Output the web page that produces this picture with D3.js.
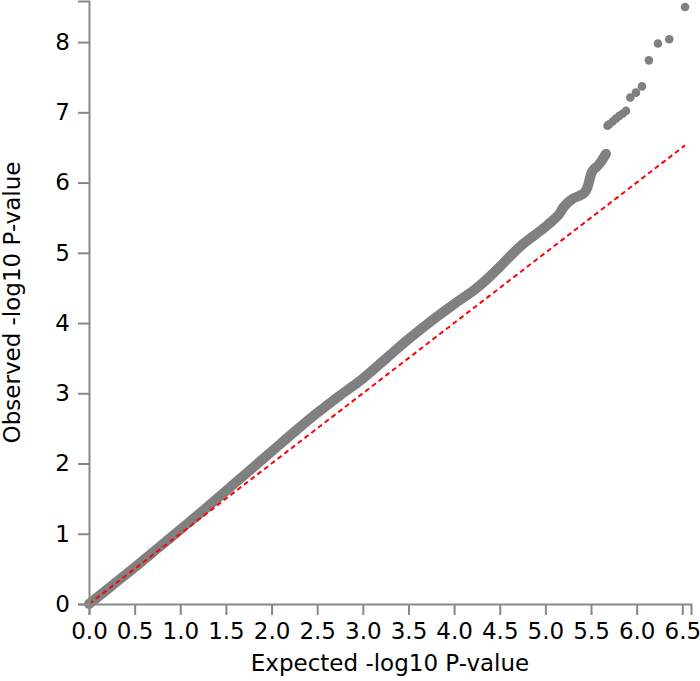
<!DOCTYPE html>
<html>
<head>
<meta charset="utf-8">
<script src="https://cdn.jsdelivr.net/npm/d3@7"></script>
<style>
  body { margin: 0; background: #fff; }
  text { font-family: "DejaVu Sans", sans-serif; }
</style>
</head>
<body>
<div id="qq"></div>
<script>
// expected vs observed -log10 p (body is a dense band, tail is sparse)
const expected = [0.0, 0.25, 0.5, 0.75, 1.0, 1.25, 1.5, 1.75, 2.0, 2.25, 2.5, 2.75, 3.0, 3.25, 3.5, 3.75,
  4.0, 4.25, 4.5, 4.62, 4.75, 4.87, 5.0, 5.08, 5.15, 5.2, 5.25, 5.3, 5.37, 5.43, 5.46, 5.48, 5.5, 5.53, 5.56, 5.6, 5.63, 5.664,
  5.68, 5.70, 5.737, 5.773, 5.81, 5.846, 5.883, 5.93, 5.992, 6.058, 6.134, 6.233, 6.357, 6.53];
const observed = [0.0, 0.26, 0.52, 0.79, 1.06, 1.33, 1.61, 1.89, 2.17, 2.45, 2.72, 2.97, 3.21, 3.49, 3.77, 4.03,
  4.27, 4.5, 4.8, 4.96, 5.12, 5.24, 5.37, 5.46, 5.55, 5.65, 5.72, 5.77, 5.81, 5.86, 5.93, 6.02, 6.12, 6.19, 6.22, 6.28, 6.34, 6.41,
  6.81, 6.83, 6.87, 6.91, 6.95, 6.98, 7.02, 7.21, 7.28, 7.37, 7.74, 7.98, 8.04, 8.50];
const xTicks = [0, 0.5, 1, 1.5, 2, 2.5, 3, 3.5, 4, 4.5, 5, 5.5, 6, 6.5];
const yTicks = [0, 1, 2, 3, 4, 5, 6, 7, 8];

const width = 700, height = 681;
const margin = { top: 1, right: 9, bottom: 77, left: 89 };
const fontSize = '23px';

const points = expected.map((e, i) => ({ e: e, o: observed[i] }));

const svg = d3.select('#qq')
  .append('svg')
  .attr('width', width)
  .attr('height', height);

const x = d3.scaleLinear()
  .domain([0, d3.max(expected) * 1.01])
  .range([margin.left, width - margin.right]);

const y = d3.scaleLinear()
  .domain([0, d3.max(observed) * 1.01])
  .range([height - margin.bottom, margin.top]);

// points: the dense part is drawn as a thick round path so it reads as overlapping dots
const dense = points.filter(d => d.o < 6.5);
svg.append('path')
  .datum(dense)
  .attr('fill', 'none')
  .attr('stroke', '#808080')
  .attr('stroke-width', 10)
  .attr('stroke-linecap', 'round')
  .attr('stroke-linejoin', 'round')
  .attr('d', d3.line().curve(d3.curveMonotoneX).x(d => x(d.e)).y(d => y(d.o)));

svg.append('g')
  .selectAll('circle')
  .data(points)
  .enter()
  .append('circle')
  .attr('cx', d => x(d.e))
  .attr('cy', d => y(d.o))
  .attr('r', 4.3)
  .attr('fill', '#808080');

// y = x reference
const maxE = d3.max(expected);
svg.append('line')
  .attr('x1', x(0)).attr('y1', y(0))
  .attr('x2', x(maxE)).attr('y2', y(maxE))
  .attr('stroke', 'red')
  .attr('stroke-width', 2)
  .attr('stroke-dasharray', '5,3.5');

const xAxis = svg.append('g')
  .attr('transform', `translate(0,${height - margin.bottom})`)
  .call(d3.axisBottom(x).tickValues(xTicks).tickFormat(d3.format('.1f')).tickSize(11).tickPadding(8));

const yAxis = svg.append('g')
  .attr('transform', `translate(${margin.left},0)`)
  .call(d3.axisLeft(y).tickValues(yTicks).tickSize(11).tickPadding(8));

[xAxis, yAxis].forEach(g => {
  g.selectAll('path, line').attr('stroke', '#888').attr('stroke-width', 2);
  g.selectAll('text').attr('fill', '#000').style('font-size', fontSize).style('font-family', 'DejaVu Sans');
});

svg.append('text')
  .attr('x', (margin.left + width - margin.right) / 2)
  .attr('y', 671)
  .attr('text-anchor', 'middle')
  .style('font-size', fontSize)
  .text('Expected -log10 P-value');

svg.append('text')
  .attr('transform', `translate(20,${(margin.top + height - margin.bottom) / 2}) rotate(-90)`)
  .attr('text-anchor', 'middle')
  .style('font-size', fontSize)
  .text('Observed -log10 P-value');
</script>
</body>
</html>
